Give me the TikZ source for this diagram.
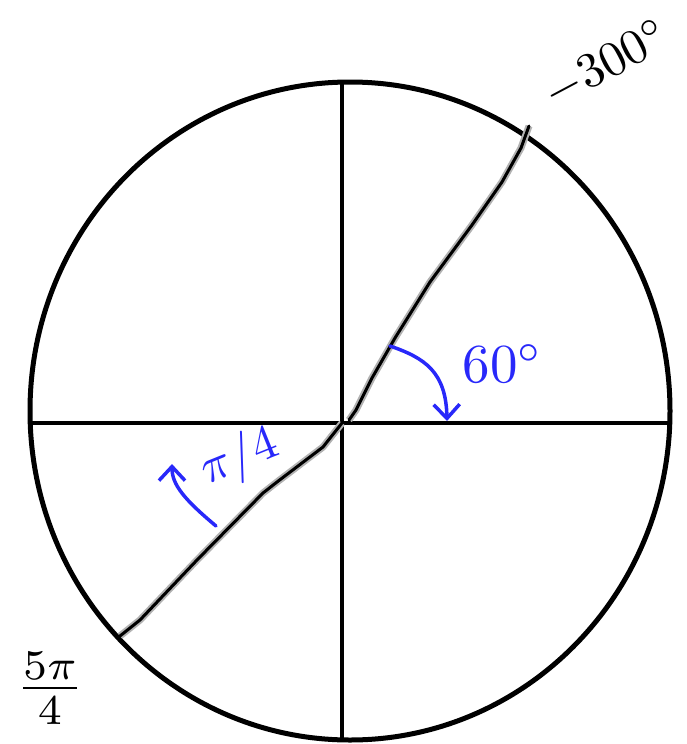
\documentclass[tikz,border=0pt]{standalone}
\usetikzlibrary{arrows.meta}
\definecolor{penblue}{RGB}{40,40,250}
\tikzset{
  pencil/.style={line width=3pt, line cap=round, line join=round,
    preaction={draw=gray!60, line width=7pt}},
  bluepen/.style={penblue, line width=3.5pt, line cap=round, line join=round},
  barb/.style={-{Straight Barb[length=14pt,width=26pt,line width=3.5pt]}},
  inklabel/.style={inner sep=0pt, scale=5.5}
}
\begin{document}
\begin{tikzpicture}[x=1pt,y=-1pt]
\useasboundingbox (0,0) rectangle (686,744);

\coordinate (O) at (342,423);
\coordinate (west) at (30,423);
\coordinate (east) at (670,423);
\coordinate (north) at (342,82);
\coordinate (south) at (342,738);

\draw[line width=5pt] (350,411) ellipse [x radius=320, y radius=329];
\draw[line width=4.5pt] (west) -- (east);
\draw[line width=4.5pt] (north) -- (south);

\draw[pencil] (349,420) -- (356,410) -- (372,378)
  -- (395,338) -- (430,282) -- (472,225) -- (502,182) -- (521,148) -- (529,126);
\draw[pencil] (O) -- (323,447) -- (277,482) -- (263,493) -- (197,560) -- (140,620) -- (120,636);

\node[inklabel, rotate=28, scale=0.9] (minusthreehundred) at (606,64) {$-300^{\circ}$};
\node[inklabel, scale=1.1] (fivepiquarter) at (50,688) {$\frac{5\pi}{4}$};

\coordinate (sixtystart) at (390,346);
\coordinate (sixtyend) at (447,421);
\draw[bluepen, barb] (sixtystart) .. controls (425,358) and (446,372) .. (sixtyend);
\node[inklabel, penblue] (sixty) at (503,364) {$60^{\circ}$};

\coordinate (quarterstart) at (216,526);
\coordinate (quarterend) at (172,464);
\draw[bluepen, barb] (quarterstart) .. controls (185,500) and (172,485) .. (quarterend);
\node[inklabel, penblue, rotate=22, scale=0.9] (piquarter) at (240,458) {$\pi/4$};
\end{tikzpicture}
\end{document}
